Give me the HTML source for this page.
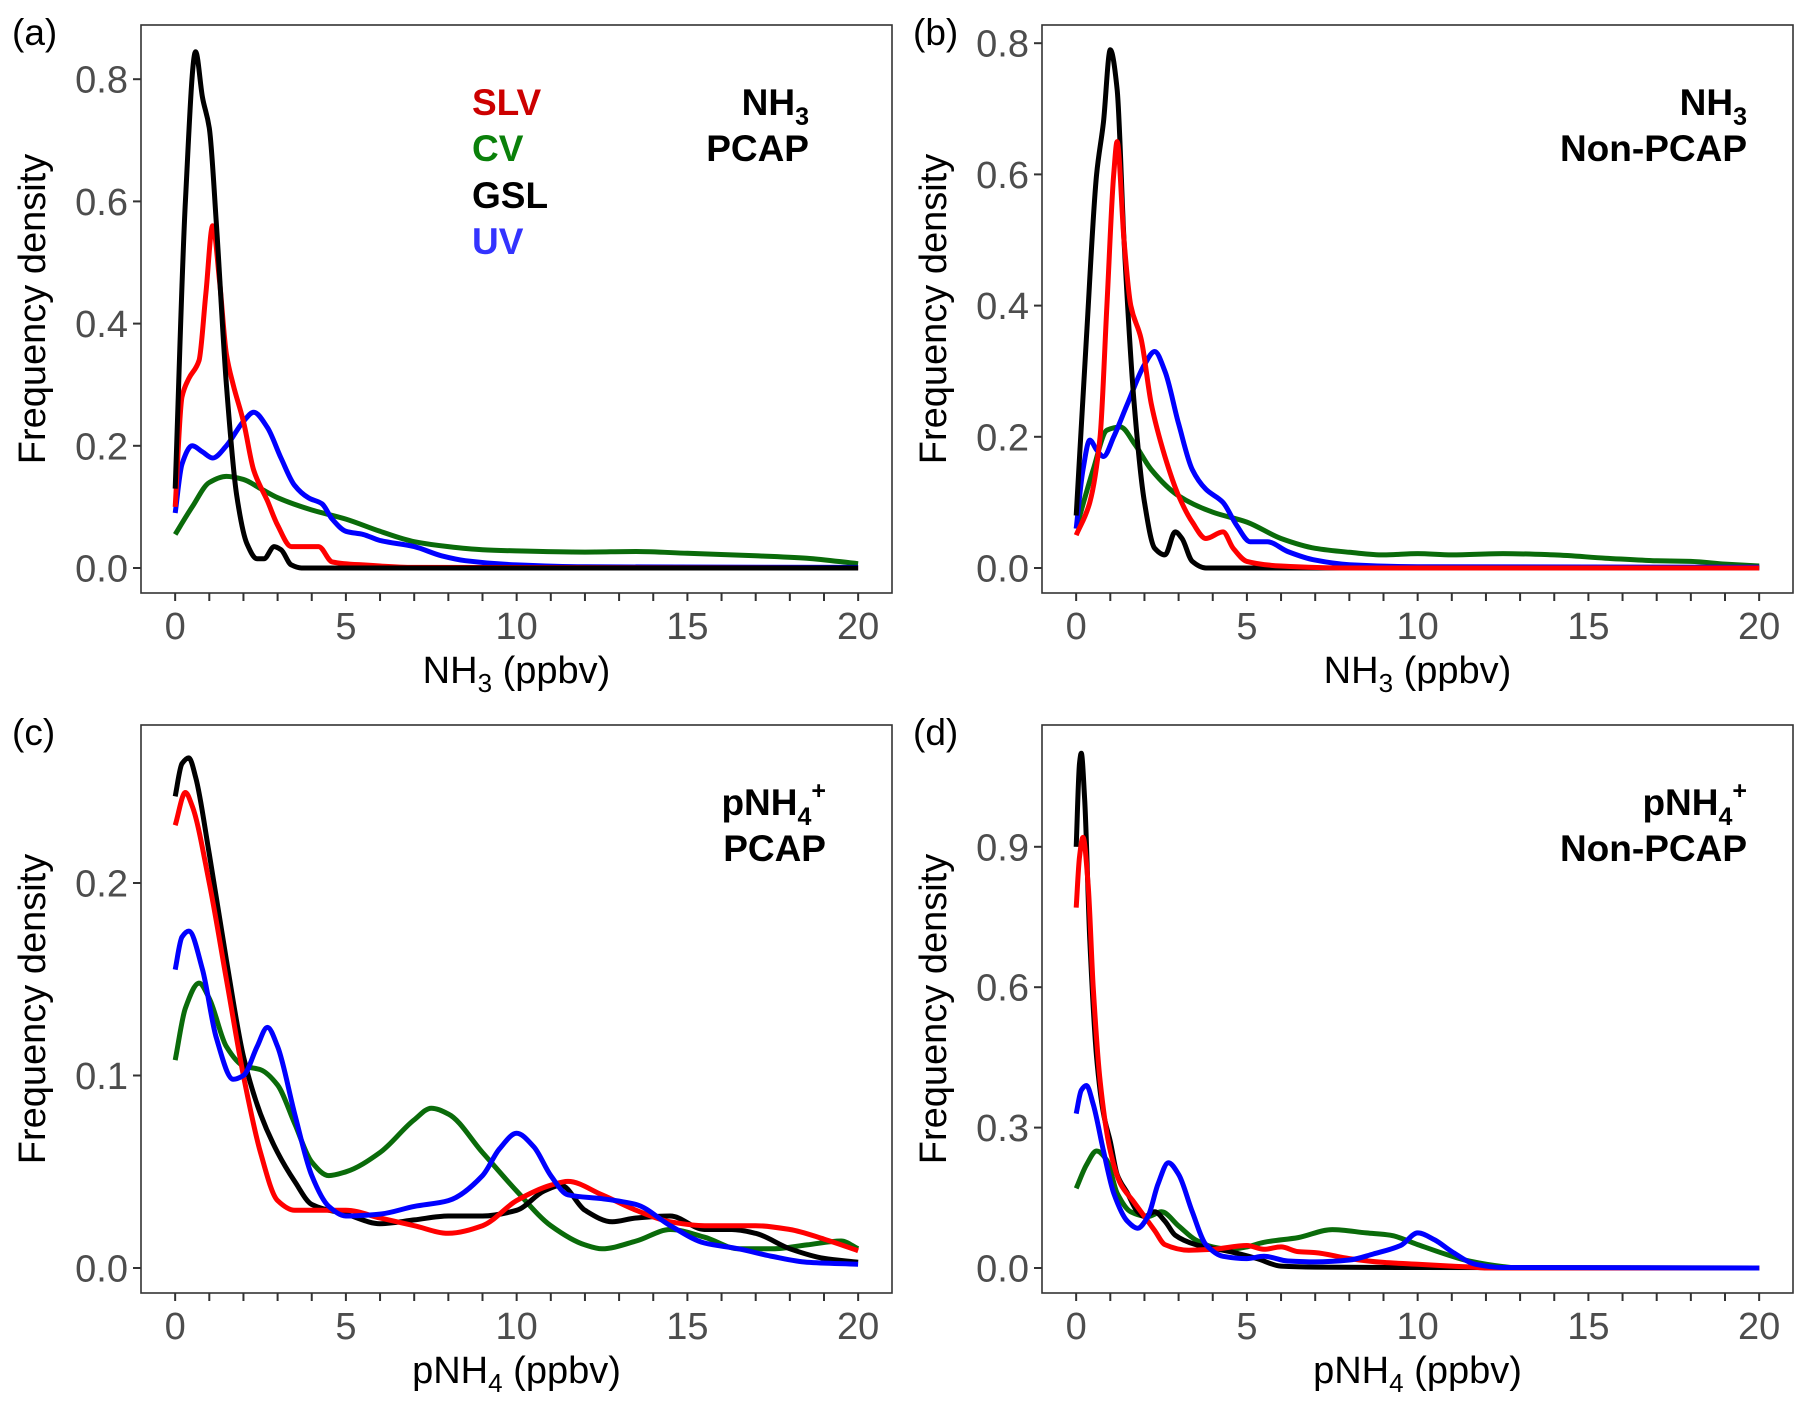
<!DOCTYPE html>
<html><head><meta charset="utf-8"><style>
html,body{margin:0;padding:0;background:#fff;}
svg{display:block;font-family:"Liberation Sans",Arial,sans-serif;}
.tick{fill:#4d4d4d;font-size:38px;}
.axt{fill:#000;font-size:38px;}
.pl{fill:#000;font-size:37px;}
.ann{font-size:37px;font-weight:bold;}
</style></head><body>
<svg id="fig" width="1809" height="1405" viewBox="0 0 1809 1405"></svg>
<script>
// ---- data ----
const xTicks = [0,5,10,15,20];
const aYTicks = [0,0.2,0.4,0.6,0.8];
const bYTicks = [0,0.2,0.4,0.6,0.8];
const cYTicks = [0,0.1,0.2];
const dYTicks = [0,0.3,0.6,0.9];
const tickLabelsA = ["0.0","0.2","0.4","0.6","0.8"];
const tickLabelsC = ["0.0","0.1","0.2"];
const tickLabelsD = ["0.0","0.3","0.6","0.9"];

const aGSLx=[0,0.3,0.6,0.8,1.0,1.2,1.5,1.8,2.1,2.4,2.6,2.9,3.1,3.4,3.7,20];
const aGSLy=[0.13,0.6,0.845,0.77,0.72,0.57,0.3,0.12,0.04,0.015,0.015,0.035,0.03,0.005,0,0];
const aSLVx=[0,0.2,0.4,0.7,0.9,1.1,1.3,1.5,1.7,2.0,2.3,2.7,3.0,3.4,3.8,4.2,4.6,5.5,7,20];
const aSLVy=[0.1,0.28,0.31,0.34,0.45,0.56,0.47,0.35,0.3,0.24,0.16,0.11,0.07,0.035,0.035,0.035,0.01,0.005,0.001,0];
const aUVx=[0,0.2,0.5,0.8,1.1,1.5,2.0,2.3,2.7,3.1,3.5,3.9,4.3,4.6,5.0,5.5,6,7,7.8,8.5,10,12,20];
const aUVy=[0.09,0.17,0.2,0.19,0.18,0.2,0.24,0.255,0.23,0.18,0.135,0.115,0.105,0.08,0.06,0.055,0.045,0.035,0.02,0.012,0.005,0.002,0.001];
const aCVx=[0,0.5,1,1.5,2,2.5,3,4,5,6,7,8,9,10,12,13.5,15,17,18.5,20];
const aCVy=[0.055,0.1,0.14,0.15,0.145,0.13,0.115,0.095,0.08,0.06,0.043,0.035,0.03,0.028,0.026,0.027,0.024,0.02,0.016,0.007];

const bGSLx=[0,0.3,0.6,0.8,1.0,1.2,1.4,1.7,2.0,2.3,2.6,2.9,3.1,3.4,3.8,20];
const bGSLy=[0.08,0.35,0.6,0.68,0.79,0.73,0.5,0.25,0.1,0.03,0.02,0.055,0.045,0.01,0,0];
const bSLVx=[0,0.4,0.7,0.9,1.1,1.2,1.4,1.6,1.9,2.2,2.6,3.0,3.4,3.8,4.3,4.6,5,6,8,20];
const bSLVy=[0.05,0.1,0.2,0.4,0.6,0.65,0.5,0.4,0.35,0.25,0.17,0.11,0.07,0.045,0.055,0.03,0.01,0.003,0,0];
const bUVx=[0,0.2,0.4,0.6,0.8,1.1,1.5,2.0,2.3,2.6,3.0,3.4,3.8,4.3,4.7,5.1,5.6,6.2,7,8,10,20];
const bUVy=[0.06,0.15,0.195,0.18,0.17,0.2,0.25,0.31,0.33,0.3,0.22,0.15,0.12,0.1,0.065,0.04,0.04,0.025,0.012,0.005,0.002,0.001];
const bCVx=[0,0.5,0.9,1.3,1.7,2.2,3,4,5,6,7,8,9,10,11,12.5,14,15.5,17,18,19,20];
const bCVy=[0.06,0.15,0.21,0.215,0.19,0.15,0.11,0.085,0.07,0.045,0.03,0.024,0.02,0.022,0.02,0.022,0.02,0.015,0.011,0.01,0.006,0.003];

const cGSLx=[0,0.2,0.4,0.6,1,1.5,2,2.5,3,3.5,4,5,6,7,8,9,10,10.8,11.3,12,12.8,13.5,14.5,15.5,16.3,17,18,19,20];
const cGSLy=[0.245,0.262,0.265,0.255,0.215,0.16,0.11,0.08,0.06,0.045,0.033,0.028,0.023,0.025,0.027,0.027,0.03,0.04,0.043,0.03,0.024,0.026,0.027,0.02,0.02,0.018,0.01,0.005,0.003];
const cSLVx=[0,0.3,0.5,1,1.5,2,2.5,3,3.5,5,6,7,8,9,10,11,11.5,12.5,13.5,14.5,15.5,17,18,19,20];
const cSLVy=[0.23,0.247,0.24,0.2,0.15,0.1,0.06,0.035,0.03,0.03,0.026,0.022,0.018,0.022,0.035,0.043,0.045,0.038,0.03,0.024,0.022,0.022,0.02,0.015,0.009];
const cUVx=[0,0.2,0.4,0.8,1.2,1.7,2.0,2.4,2.7,3.0,3.5,4,4.5,5,6,7,8,9,9.5,10,10.5,11,11.5,12.5,13.5,14.5,15.5,16.5,17.5,18.5,20];
const cUVy=[0.155,0.172,0.175,0.155,0.12,0.098,0.1,0.115,0.125,0.115,0.08,0.048,0.032,0.027,0.028,0.032,0.035,0.048,0.062,0.07,0.063,0.048,0.038,0.036,0.033,0.022,0.013,0.01,0.006,0.003,0.002];
const cCVx=[0,0.3,0.7,1,1.5,2,2.5,3,3.5,4,4.5,5,6,7,7.5,8,9,10,11,12,12.5,13.5,14.5,15.5,16.5,17.5,18.5,19.5,20];
const cCVy=[0.108,0.135,0.148,0.14,0.115,0.105,0.103,0.095,0.075,0.055,0.048,0.05,0.06,0.077,0.083,0.08,0.06,0.04,0.022,0.012,0.01,0.014,0.02,0.016,0.01,0.01,0.012,0.014,0.01];

const dGSLx=[0,0.1,0.15,0.25,0.4,0.6,0.8,1,1.2,1.5,1.8,2.0,2.3,2.6,2.9,3.5,4.5,5.3,6,7,10,20];
const dGSLy=[0.9,1.08,1.1,1.0,0.7,0.45,0.33,0.27,0.2,0.16,0.12,0.11,0.12,0.1,0.07,0.05,0.035,0.02,0.004,0.002,0.001,0];
const dSLVx=[0,0.1,0.2,0.35,0.5,0.7,1,1.3,1.7,2,2.3,2.6,3.3,4,5,5.5,6,6.5,7,8,9,10,11,11.6,12,20];
const dSLVy=[0.77,0.88,0.92,0.82,0.6,0.4,0.25,0.18,0.14,0.11,0.08,0.05,0.038,0.04,0.048,0.04,0.045,0.035,0.033,0.02,0.012,0.008,0.004,0.002,0,0];
const dUVx=[0,0.15,0.3,0.5,0.8,1.1,1.5,1.8,2.1,2.4,2.7,3.0,3.4,3.8,4.3,5,5.5,6.2,7,8,8.7,9.5,10,10.5,11,11.7,12.5,20];
const dUVy=[0.33,0.38,0.39,0.35,0.25,0.16,0.1,0.085,0.11,0.18,0.225,0.2,0.12,0.05,0.025,0.02,0.025,0.015,0.013,0.017,0.03,0.048,0.075,0.06,0.035,0.008,0.001,0];
const dCVx=[0,0.3,0.6,0.9,1.2,1.6,2.1,2.5,3,3.5,4,4.5,5,5.5,6.5,7.5,8.5,9.2,10,10.8,11.5,12.5,13,20];
const dCVy=[0.17,0.22,0.25,0.23,0.16,0.12,0.11,0.12,0.09,0.06,0.045,0.04,0.045,0.055,0.065,0.082,0.075,0.07,0.05,0.03,0.015,0.003,0,0];

const COLORS={SLV:"#ff0000",CV:"#0a6b0a",GSL:"#000000",UV:"#0000ff"};
const NS="http://www.w3.org/2000/svg";
const svg=document.getElementById('fig');
function mk(tag,attrs,parent){const e=document.createElementNS(NS,tag);for(const k in attrs)e.setAttribute(k,attrs[k]);(parent||svg).appendChild(e);return e;}

function smoothPath(pts){
  const n=pts.length;
  const dx=[],sl=[];
  for(let i=0;i<n-1;i++){dx.push(pts[i+1][0]-pts[i][0]);sl.push((pts[i+1][1]-pts[i][1])/dx[i]);}
  const m=new Array(n);
  m[0]=sl[0];m[n-1]=sl[n-2];
  for(let i=1;i<n-1;i++){
    if(sl[i-1]*sl[i]<=0)m[i]=0;
    else{const w1=2*dx[i]+dx[i-1],w2=dx[i]+2*dx[i-1];m[i]=(w1+w2)/(w1/sl[i-1]+w2/sl[i]);}
  }
  let d=`M${pts[0][0].toFixed(1)},${pts[0][1].toFixed(1)}`;
  for(let i=0;i<n-1;i++){
    const h=dx[i]/3;
    d+=` C${(pts[i][0]+h).toFixed(1)},${(pts[i][1]+m[i]*h).toFixed(1)} ${(pts[i+1][0]-h).toFixed(1)},${(pts[i+1][1]-m[i+1]*h).toFixed(1)} ${pts[i+1][0].toFixed(1)},${pts[i+1][1].toFixed(1)}`;
  }
  return d;
}

function panel(o){
  const g=mk('g',{});
  
  
  const L=o.left,T=o.top,W=751,H=568;
  const xs=v=>L+34.15*(v+1);
  const ys=v=>o.y0-o.yk*v;
  const clip='clip-'+o.name;
  const cp=mk('clipPath',{id:clip},g);mk('rect',{x:L,y:T,width:W,height:H},cp);
  o.series.forEach(s=>{
    const pts=s.x.map((xv,i)=>[xs(xv),ys(s.y[i])]);
    const p=mk('path',{d:smoothPath(pts),fill:'none',stroke:COLORS[s.k],'stroke-width':5,'stroke-linejoin':'round','stroke-linecap':'butt','clip-path':`url(#${clip})`},g);
    
    
  });
  const box=mk('rect',{x:L,y:T,width:W,height:H,fill:'none',stroke:'#333','stroke-width':1.6},g);
  
  
  for(let v=0;v<=20;v++){
    mk('line',{x1:xs(v),x2:xs(v),y1:T+H,y2:T+H+8,stroke:'#333','stroke-width':2},g);
  }
  xTicks.forEach(v=>{
    const t=mk('text',{x:xs(v),y:T+H+46,'text-anchor':'middle',class:'tick'},g);t.textContent=v;
    
    
  });
  o.yTicks.forEach((v,i)=>{
    mk('line',{x1:L-8,x2:L,y1:ys(v),y2:ys(v),stroke:'#333','stroke-width':2},g);
    const t=mk('text',{x:L-13,y:ys(v)+13.5,'text-anchor':'end',class:'tick'},g);t.textContent=o.yLabels[i];
    
    
  });
  const xt=mk('text',{x:L+W/2,y:T+H+90,'text-anchor':'middle',class:'axt'},g);
  xt.innerHTML=o.xTitle;
  
  
  const yt=mk('text',{x:0,y:0,'text-anchor':'middle',class:'axt',transform:`translate(${L-96},${T+H/2}) rotate(-90)`},g);
  yt.textContent='Frequency density';
  
  
  const pl=mk('text',{x:L-129,y:T+20,class:'pl'},g);pl.textContent=o.label;
  
  
  const a1=mk('text',{x:L+o.annX,y:T+90,'text-anchor':'end',class:'ann'},g);a1.innerHTML=o.ann1;
  
  
  const a2=mk('text',{x:L+o.annX,y:T+136,'text-anchor':'end',class:'ann'},g);a2.textContent=o.ann2;
  
  
  return g;
}
const sub3='NH<tspan font-size="25" dy="10">3</tspan>';
const nh4p='pNH<tspan font-size="25" dy="10">4</tspan><tspan font-size="25" dy="-26">+</tspan>';
const nh3t='NH<tspan font-size="26" dy="9">3</tspan><tspan dy="-9"> (ppbv)</tspan>';
const pnh4t='pNH<tspan font-size="26" dy="9">4</tspan><tspan dy="-9"> (ppbv)</tspan>';

panel({name:'panel-a',left:141,top:25,y0:568,yk:611,yTicks:aYTicks,yLabels:tickLabelsA,xTitle:nh3t,label:'(a)',ann1:sub3,ann2:'PCAP',annX:668,
  series:[{k:'CV',x:aCVx,y:aCVy},{k:'UV',x:aUVx,y:aUVy},{k:'SLV',x:aSLVx,y:aSLVy},{k:'GSL',x:aGSLx,y:aGSLy}]});
panel({name:'panel-b',left:1042,top:25,y0:568,yk:656,yTicks:bYTicks,yLabels:tickLabelsA,xTitle:nh3t,label:'(b)',ann1:sub3,ann2:'Non-PCAP',annX:705,
  series:[{k:'CV',x:bCVx,y:bCVy},{k:'UV',x:bUVx,y:bUVy},{k:'GSL',x:bGSLx,y:bGSLy},{k:'SLV',x:bSLVx,y:bSLVy}]});
panel({name:'panel-c',left:141,top:725,y0:1268,yk:1925,yTicks:cYTicks,yLabels:tickLabelsC,xTitle:pnh4t,label:'(c)',ann1:nh4p,ann2:'PCAP',annX:685,
  series:[{k:'CV',x:cCVx,y:cCVy},{k:'GSL',x:cGSLx,y:cGSLy},{k:'SLV',x:cSLVx,y:cSLVy},{k:'UV',x:cUVx,y:cUVy}]});
panel({name:'panel-d',left:1042,top:725,y0:1268,yk:468,yTicks:dYTicks,yLabels:tickLabelsD,xTitle:pnh4t,label:'(d)',ann1:nh4p,ann2:'Non-PCAP',annX:705,
  series:[{k:'CV',x:dCVx,y:dCVy},{k:'GSL',x:dGSLx,y:dGSLy},{k:'SLV',x:dSLVx,y:dSLVy},{k:'UV',x:dUVx,y:dUVy}]});

const legend=[["SLV","#cc0000",115],["CV","#0a800a",161],["GSL","#000000",208],["UV","#3333ff",254]];
legend.forEach(l=>{
  const t=mk('text',{x:472,y:l[2],class:'ann',fill:l[1]});t.textContent=l[0];
  
  
});
</script>
</body></html>
